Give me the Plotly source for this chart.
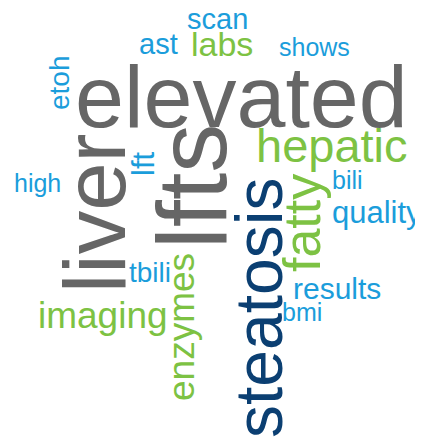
import plotly.graph_objects as go

# word cloud terms and their weights (rendered font size in px)
words = ["lfts", "elevated", "liver", "steatosis", "fatty", "hepatic",
         "imaging", "enzymes", "labs", "quality", "results", "scan", "ast",
         "etoh", "tbili", "lft", "shows", "high", "bili", "bmi"]
weight = [98, 88, 87, 66, 52, 47, 37, 37, 34, 31, 30, 29, 29, 28, 28, 31,
          25, 25, 25, 25]
group = ["top", "top", "top", "key", "mid", "mid", "mid", "mid", "mid",
         "low", "low", "low", "low", "low", "low", "low", "low", "low",
         "low", "low"]

# placement of each word (centre, px from top-left of the picture) and rotation
pos_x = [192, 241, 94, 259, 302, 332, 103, 181, 222, 377, 337, 217, 158,
         59, 150, 143, 314, 37, 347, 302]
pos_y = [187, 96, 213, 308, 223, 145, 315, 327, 44, 212, 288, 19, 44, 83,
         272, 164, 47, 183, 180, 312]
angle = [-90, 0, -90, -90, -90, 0, 0, -90, 0, 0, 0, 0, 0, -90, 0, -90, 0,
         0, 0, 0]

COLORS = {"top": "#666666", "key": "#0B3F72", "mid": "#7DC243",
          "low": "#1B9DDB"}

# the page body has an 8px margin, so the plot starts at (8, 8)
OFF = 8
W, H = 423, 441

fig = go.Figure()
fig.add_trace(go.Scatter(x=[OFF, W], y=[OFF, H], mode="markers",
                         marker=dict(opacity=0), hoverinfo="skip",
                         showlegend=False))

for w, s, g, x, y, a in zip(words, weight, group, pos_x, pos_y, angle):
    fig.add_annotation(
        x=x, y=y, xref="x", yref="y", text=w, showarrow=False,
        textangle=a, xanchor="center", yanchor="middle",
        font=dict(family="Liberation Sans, Arial, sans-serif", size=s,
                  color=COLORS[g]),
    )

fig.update_layout(
    width=W - OFF, height=H - OFF,
    margin=dict(l=0, r=0, t=0, b=0),
    paper_bgcolor="#FFFFFF", plot_bgcolor="#FFFFFF",
    xaxis=dict(range=[OFF, W], visible=False, fixedrange=True),
    yaxis=dict(range=[H, OFF], visible=False, fixedrange=True),
    showlegend=False,
)

fig.write_html("out.html", config={"displayModeBar": False})
